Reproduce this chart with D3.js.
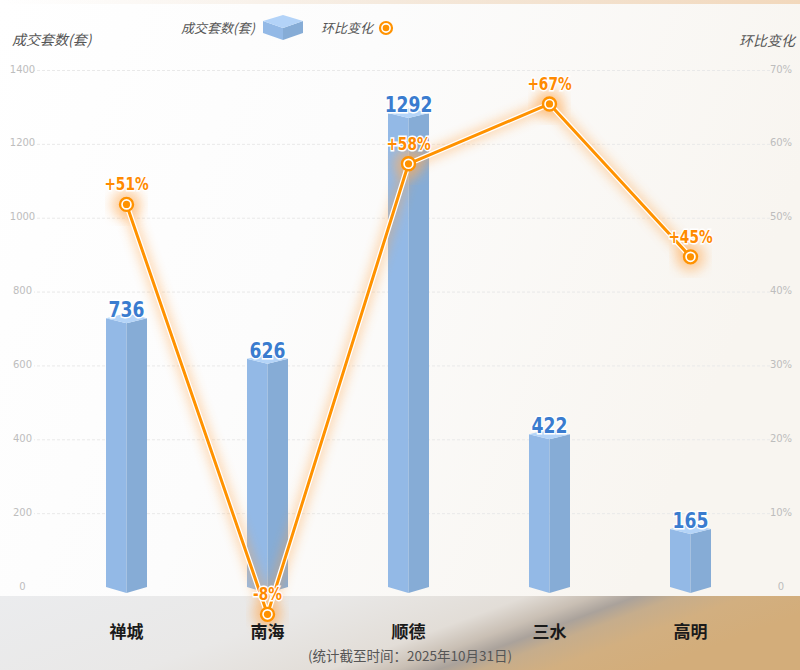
<!DOCTYPE html>
<html><head><meta charset="utf-8">
<script src="https://cdn.jsdelivr.net/npm/d3@7"></script>
<style>body{margin:0;background:#fff}svg{display:block}</style>
</head><body>
<svg id="c" width="800" height="670"></svg>
<script>
// ---- data ----
const categories = ["禅城", "南海", "顺德", "三水", "高明"];
const salesValues = [736, 626, 1292, 422, 165];
const momValues = [51.8, -3.7, 57.3, 65.4, 44.7];   // plotted positions
const momLabels = ["+51%", "-8%", "+58%", "+67%", "+45%"];
const leftTicks = [0, 200, 400, 600, 800, 1000, 1200, 1400];
const rightTicks = [0, 10, 20, 30, 40, 50, 60, 70];
const leftTitle = "成交套数(套)";
const rightTitle = "环比变化";
const footnote = "(统计截至时间：2025年10月31日)";

const W = 800, H = 670;
const svg = d3.select("#c");
const defs = svg.append("defs");
const CJK = "'Noto Sans CJK SC','Noto Sans',sans-serif";
const NUM = "'DejaVu Sans',sans-serif";
const ORANGE = "#ff9200";

// gradients
function lg(id, stops, x1 = 0, y1 = 0, x2 = 1, y2 = 0) {
  const g = defs.append("linearGradient").attr("id", id)
    .attr("x1", x1).attr("y1", y1).attr("x2", x2).attr("y2", y2);
  stops.forEach(s => g.append("stop").attr("offset", s[0]).attr("stop-color", s[1]).attr("stop-opacity", s[2] == null ? 1 : s[2]));
}
lg("bgTop", [[0, "#ffffff"], [0.45, "#fcfcfc"], [1, "#f8f5f0"]], 0, 0, 1, 0.3);
lg("topEdge", [[0, "#f3e6d8", 0], [0.5, "#f0dcc6", 0.6], [1, "#f2d8bc", 1]]);
lg("bottomBand", [[0, "#ebecee"], [0.4, "#e9e8e7"], [0.62, "#e2ddd7"], [0.7, "#c9bfb4"], [0.75, "#aaa29b"], [0.8, "#c6ad8c"], [0.88, "#d2af80"], [1, "#d3ad7a"]], 0, 0, 1, 0.25);

const glow = defs.append("filter").attr("id", "glow").attr("x", "-20%").attr("y", "-20%").attr("width", "140%").attr("height", "140%");
glow.append("feGaussianBlur").attr("stdDeviation", 6);

// background
svg.append("rect").attr("width", W).attr("height", 596).attr("fill", "url(#bgTop)");
svg.append("rect").attr("width", W).attr("height", 4).attr("fill", "url(#topEdge)");
svg.append("rect").attr("y", 596).attr("width", W).attr("height", H - 596).attr("fill", "url(#bottomBand)");

// scales
const x = d3.scaleBand().domain(categories).range([56, 761]);
const cx = c => x(c) + x.bandwidth() / 2;
const yL = d3.scaleLinear().domain([0, 1400]).range([587, 70]);
const yR = d3.scaleLinear().domain([0, 70]).range([587, 70]);

// grid lines via axis
const grid = svg.append("g").attr("transform", "translate(770,0)")
  .call(d3.axisLeft(yL).tickValues(leftTicks.filter(v => v > 0)).tickSize(736).tickFormat(""));
grid.select(".domain").remove();
grid.selectAll(".tick line").attr("stroke", "#e9e9e9").attr("stroke-dasharray", "3,2").attr("stroke-width", 1);

// left tick labels
const la = svg.append("g").attr("transform", "translate(22.5,0)")
  .call(d3.axisLeft(yL).tickValues(leftTicks).tickSize(0).tickPadding(0).tickFormat(d3.format("d")));
la.select(".domain").remove();
la.selectAll("text").attr("text-anchor", "middle").attr("dy", "0.2em")
  .attr("fill", "#bdbdbd").style("font", "10px 'DejaVu Sans',sans-serif");

// right tick labels
const ra = svg.append("g").attr("transform", "translate(781,0)")
  .call(d3.axisRight(yR).tickValues(rightTicks).tickSize(0).tickPadding(0).tickFormat(d => d === 0 ? "0" : d + "%"));
ra.select(".domain").remove();
ra.selectAll("text").attr("text-anchor", "middle").attr("dy", "0.2em")
  .attr("fill", "#bdbdbd").style("font", "10px 'DejaVu Sans',sans-serif");

// axis titles
svg.append("text").attr("x", 12).attr("y", 45).text(leftTitle)
  .attr("fill", "#555").style("font-family", CJK).style("font-size", "14px").style("font-style", "italic");
svg.append("text").attr("x", 795).attr("y", 46).attr("text-anchor", "end").text(rightTitle)
  .attr("fill", "#555").style("font-family", CJK).style("font-size", "14px").style("font-style", "italic");

// legend
const lgG = svg.append("g");
lgG.append("text").attr("x", 181).attr("y", 33).text(leftTitle)
  .attr("fill", "#555").style("font-family", CJK).style("font-size", "13px").style("font-style", "italic");
const ic = { x: 283, y: 15, hw: 20 };
lgG.append("path").attr("d", `M${ic.x - ic.hw},${ic.y + 6} L${ic.x},${ic.y + 13} L${ic.x},${ic.y + 25} L${ic.x - ic.hw},${ic.y + 18}Z`).attr("fill", "#93b9e6");
lgG.append("path").attr("d", `M${ic.x},${ic.y + 13} L${ic.x + ic.hw},${ic.y + 6} L${ic.x + ic.hw},${ic.y + 18} L${ic.x},${ic.y + 25}Z`).attr("fill", "#86acd6");
lgG.append("path").attr("d", `M${ic.x - ic.hw},${ic.y + 6} L${ic.x},${ic.y} L${ic.x + ic.hw},${ic.y + 6} L${ic.x},${ic.y + 13}Z`).attr("fill", "#b3d3f8");
lgG.append("text").attr("x", 321).attr("y", 33).text(rightTitle)
  .attr("fill", "#555").style("font-family", CJK).style("font-size", "13px").style("font-style", "italic");
lgG.append("circle").attr("cx", 386).attr("cy", 28).attr("r", 6).attr("fill", "#fff").attr("stroke", ORANGE).attr("stroke-width", 2.2);
lgG.append("circle").attr("cx", 386).attr("cy", 28).attr("r", 3.3).attr("fill", ORANGE);

// bars (3D)
const hw = 20.5, base = yL(0);
const bars = svg.append("g").selectAll("g").data(categories.map((c, i) => ({ c, v: salesValues[i] }))).join("g");
bars.append("path").attr("d", d => {
  const X = cx(d.c), t = yL(d.v) + 3;
  return `M${X - hw},${t} L${X},${t + 5} L${X},${base + 6} L${X - hw},${base}Z`;
}).attr("fill", "#93b9e6");
bars.append("path").attr("d", d => {
  const X = cx(d.c), t = yL(d.v) + 3;
  return `M${X},${t + 5} L${X + hw},${t} L${X + hw},${base} L${X},${base + 6}Z`;
}).attr("fill", "#86acd6");
bars.append("path").attr("d", d => {
  const X = cx(d.c), t = yL(d.v) + 3;
  return `M${X - hw},${t} L${X},${t - 5} L${X + hw},${t} L${X},${t + 5}Z`;
}).attr("fill", "#b4d4f8");
bars.append("text").attr("transform", d => `translate(${cx(d.c)},${yL(d.v) + 2}) scale(0.78,1)`)
  .attr("text-anchor", "middle").text(d => d.v)
  .attr("fill", "#3a7ccf").attr("stroke", "#fff").attr("stroke-width", 3).attr("paint-order", "stroke")
  .style("font-family", NUM).style("font-weight", "bold").style("font-size", "22px");

// line
const pts = categories.map((c, i) => ({ c, v: momValues[i], l: momLabels[i] }));
const line = d3.line().x(d => cx(d.c)).y(d => yR(d.v));
const lineG = svg.append("g");
lineG.append("path").attr("d", line(pts)).attr("fill", "none").attr("stroke", "#ffa040")
  .attr("stroke-width", 10).attr("opacity", 0.45).attr("filter", "url(#glow)");
lineG.selectAll(".halo").data(pts).join("circle").attr("cx", d => cx(d.c)).attr("cy", d => yR(d.v))
  .attr("r", 15).attr("fill", "#ffb060").attr("opacity", 0.55).attr("filter", "url(#glow)");
lineG.append("path").attr("d", line(pts)).attr("fill", "none").attr("stroke", "#fff")
  .attr("stroke-width", 5.5).attr("stroke-linejoin", "round");
lineG.append("path").attr("d", line(pts)).attr("fill", "none").attr("stroke", ORANGE)
  .attr("stroke-width", 3).attr("stroke-linejoin", "round");
lineG.selectAll(".mk").data(pts).join("circle").attr("cx", d => cx(d.c)).attr("cy", d => yR(d.v))
  .attr("r", 6.5).attr("fill", "#fff").attr("stroke", ORANGE).attr("stroke-width", 2.4);
lineG.selectAll(".dot").data(pts).join("circle").attr("cx", d => cx(d.c)).attr("cy", d => yR(d.v))
  .attr("r", 3.6).attr("fill", ORANGE);
lineG.selectAll(".lbl").data(pts).join("text")
  .attr("transform", d => `translate(${cx(d.c)},${yR(d.v) - 14}) scale(0.74,1)`)
  .attr("text-anchor", "middle").text(d => d.l)
  .attr("fill", "#ff8a00").attr("stroke", "#fff").attr("stroke-width", 3).attr("paint-order", "stroke")
  .style("font-family", NUM).style("font-weight", "bold").style("font-size", "18.5px");

// category labels
svg.append("g").selectAll("text").data(categories).join("text")
  .attr("x", d => cx(d)).attr("y", 638).attr("text-anchor", "middle").text(d => d)
  .attr("fill", "#1a1a1a").style("font-family", CJK).style("font-weight", "bold").style("font-size", "17px");

svg.append("text").attr("x", 410).attr("y", 661).attr("text-anchor", "middle").text(footnote)
  .attr("fill", "#555").style("font-family", CJK).style("font-size", "13.5px");
</script>
</body></html>
